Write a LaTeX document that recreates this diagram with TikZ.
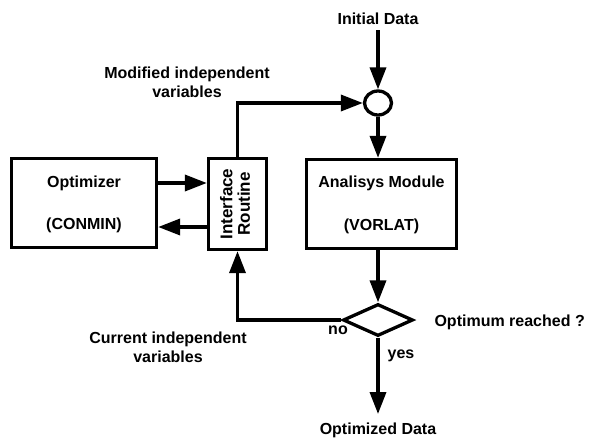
\documentclass[tikz,border=0pt]{standalone}
\usepackage{fontspec}
\setmainfont{Liberation Sans}
\usetikzlibrary{arrows.meta, shapes.geometric}

\begin{document}
\begin{tikzpicture}[x=1pt, y=-1pt,
  every node/.style={font=\fontsize{16}{19}\selectfont\bfseries},
  block/.style={draw, line width=3.3pt, rectangle, inner sep=0pt},
  arr/.style={line width=3.5pt, -{Triangle[length=22pt,width=16pt]}},
  link/.style={line width=3.5pt}]
\useasboundingbox (0,0) rectangle (596,444);
% boxes
\node[block, minimum width=145pt, minimum height=89pt] (opt) at (84,203) {};
\node at (84,183) {Optimizer};
\node at (84,225) {(CONMIN)};
\node[block, minimum width=58pt, minimum height=91pt, align=center,
  font=\fontsize{17}{17}\selectfont\bfseries] (intf) at (237.5,204)
  {\rotatebox{90}{\begin{tabular}{@{}c@{}}Interface\\Routine\end{tabular}}};
\node[block, minimum width=150pt, minimum height=89pt] (ana) at (381.5,204) {};
\node at (381.5,183) {Analisys Module};
\node at (381.5,226) {(VORLAT)};
\node[draw, ellipse, line width=3.3pt, inner sep=0pt, minimum width=27pt, minimum height=24pt] (circ) at (378,103) {};
\node[draw, diamond, line width=3.3pt, inner sep=0pt, minimum width=70pt, minimum height=32pt] (dia) at (378,320) {};
% texts
\node (init) at (378,19) {Initial Data};
\node (out) at (378,430) {Optimized Data};
\node[align=center] (mod) at (187,82) {Modified independent\\variables};
\node[align=center] (cur) at (168,347) {Current independent\\variables};
\node[anchor=west] (ask) at (431,322) {Optimum reached ?};
\node (no) at (338,330) {no};
\node (yes) at (401,356) {yes};
% connectors
\draw[arr, shorten <=2pt] (init) -- (circ);
\draw[arr] (circ) -- (circ |- ana.north);
\draw[arr] (intf.north) |- (circ.west);
\draw[arr] ([yshift=20pt]opt.east) -- ([yshift=20pt]opt.east -| intf.west);
\draw[arr] ([yshift=-23pt]intf.west) -- ([yshift=-23pt]intf.west -| opt.east);
\draw[arr] (dia |- ana.south) -- (dia.north);
\draw[arr] (dia.west) -| (intf.south);
\draw[arr, shorten >=5pt] (dia.south) -- (out.north);
\end{tikzpicture}
\end{document}
